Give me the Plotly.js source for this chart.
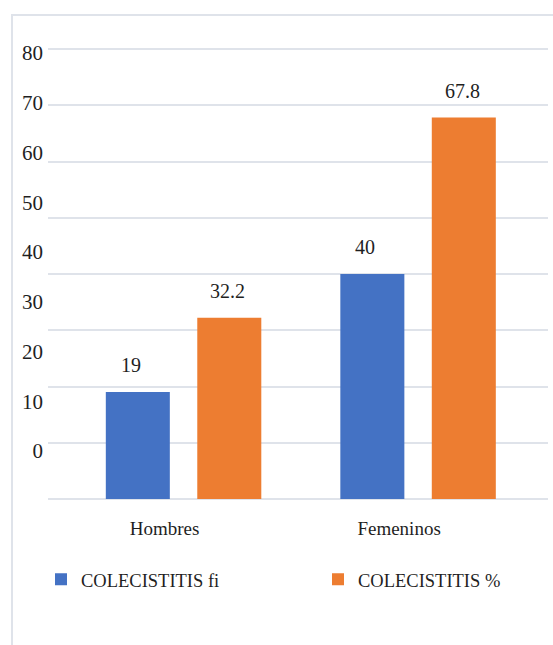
<!DOCTYPE html>
<html>
<head>
<meta charset="utf-8">
<script src="https://cdn.plot.ly/plotly-3.0.1.min.js"></script>
<style>
  html, body { margin: 0; padding: 0; background: #ffffff; }
  #wrap { position: relative; width: 553px; height: 645px; overflow: hidden; }
  #chart { position: absolute; left: 0; top: 0; width: 553px; height: 645px; }
  #frame { position: absolute; left: 11px; top: 14px; width: 560px; height: 660px;
           border-left: 2px solid #dfe3ea; border-top: 2px solid #dfe3ea; pointer-events: none; }
</style>
</head>
<body>
<div id="wrap">
  <div id="chart"></div>
  <div id="frame"></div>
</div>
<script>
// ---- data ----
const categories = ['Hombres', 'Femeninos'];
const fiValues = [19, 40];
const pctValues = [32.2, 67.8];
const seriesNames = ['COLECISTITIS fi', 'COLECISTITIS %'];
const yTickValues = [0, 10, 20, 30, 40, 50, 60, 70, 80];
const seriesColors = ['#4472c4', '#ed7d31'];

const FONT = 'Liberation Serif';
const series = [fiValues, pctValues];
const legendIds = ['legend', 'legend2'];

const traces = series.map((vals, i) => ({
  type: 'bar',
  name: seriesNames[i],
  x: categories,
  y: vals,
  legend: legendIds[i],
  marker: { color: seriesColors[i] },
  hoverinfo: 'skip'
}));

// value labels above bars
const annotations = [];
series.forEach((vals, i) => {
  vals.forEach((v, j) => {
    annotations.push({
      x: categories[j], y: v, xref: 'x', yref: 'y',
      text: String(v), showarrow: false,
      yanchor: 'bottom', yshift: 14,
      xshift: i === 0 ? -53 : 44,
      font: { family: FONT, size: 20, color: '#1f1f1f' }
    });
  });
});

const legendCommon = {
  orientation: 'h', xanchor: 'left', y: -0.176, yanchor: 'middle',
  font: { family: FONT, size: 18.5, color: '#1f1f1f' },
  itemwidth: 30, bgcolor: 'rgba(0,0,0,0)', borderwidth: 0
};

const layout = {
  width: 553, height: 645,
  margin: { l: 48, r: 5, t: 40, b: 146 },
  paper_bgcolor: '#ffffff', plot_bgcolor: '#ffffff',
  font: { family: FONT, size: 19, color: '#1f1f1f' },
  barmode: 'group',
  bargap: 0.22,
  bargroupgap: 0.3,
  showlegend: true,
  legend: Object.assign({}, legendCommon, { x: -0.014 }),
  legend2: Object.assign({}, legendCommon, { x: 0.54 }),
  xaxis: {
    type: 'category',
    range: [-0.578, 1.554],
    showgrid: false, zeroline: false, showline: false,
    ticks: '', ticklabelstandoff: 16, ticklabelshift: -19,
    tickfont: { family: FONT, size: 19, color: '#1f1f1f' },
    fixedrange: true
  },
  yaxis: {
    range: [0, 81.6],
    tickvals: yTickValues,
    showticklabels: false,
    showgrid: true, gridcolor: '#dfe3ea', gridwidth: 2,
    zeroline: true, zerolinecolor: '#dfe3ea', zerolinewidth: 2,
    showline: false, ticks: '', fixedrange: true
  },
  yaxis2: {
    overlaying: 'y', side: 'left', anchor: 'x',
    range: [-9.65, 82.6],
    tickvals: yTickValues,
    ticktext: yTickValues.map(String),
    showgrid: false, zeroline: false, showline: false, ticks: '',
    ticklabelstandoff: 4,
    tickfont: { family: FONT, size: 21, color: '#1f1f1f' },
    fixedrange: true
  },
  annotations: annotations
};

// invisible trace to activate yaxis2
traces.push({
  type: 'scatter', x: [categories[0]], y: [0], yaxis: 'y2',
  mode: 'markers', marker: { opacity: 0 }, showlegend: false, hoverinfo: 'skip'
});

Plotly.newPlot('chart', traces, layout, { displayModeBar: false, staticPlot: true });
</script>
</body>
</html>
